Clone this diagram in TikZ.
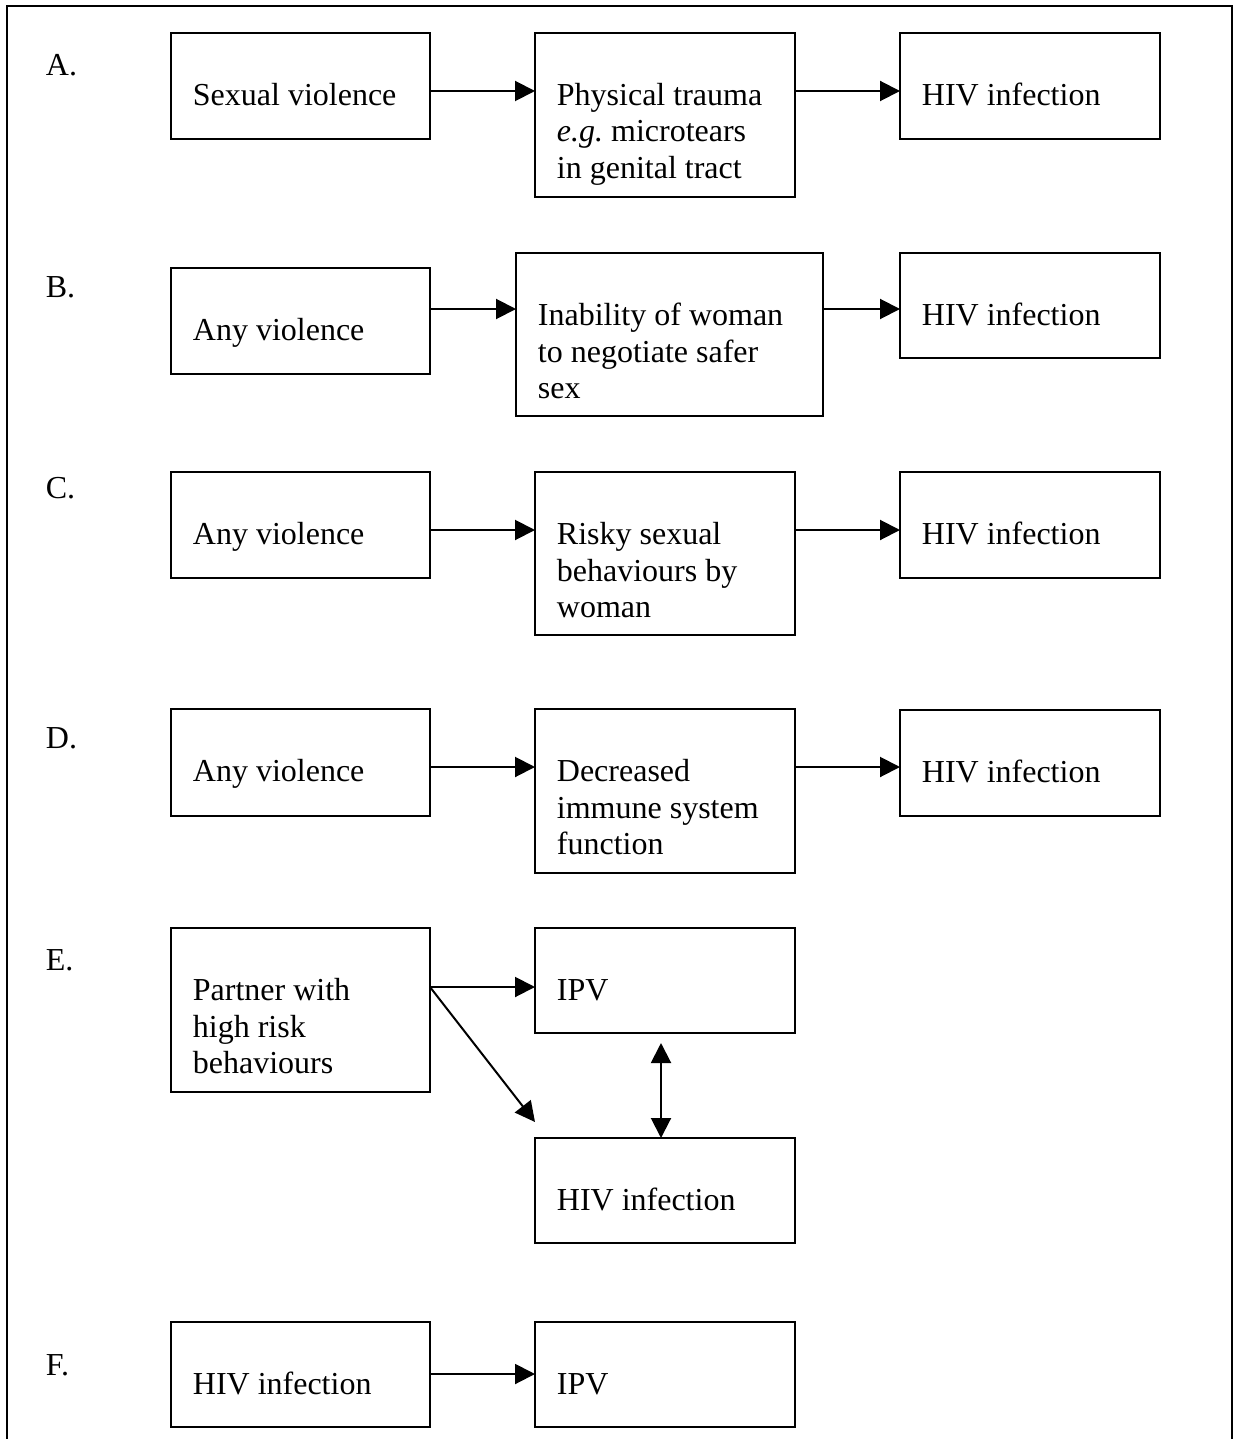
\documentclass[tikz,border=0pt]{standalone}
\usepackage{fontspec}
\setmainfont{Liberation Serif}
\usetikzlibrary{arrows.meta,calc}

% A framed stage: name, left, top, right, bottom, text (text top-aligned,
% first baseline a fixed distance below the top edge)
\newcommand{\stagebox}[6]{%
  \node[box,minimum width={(#4-#2)*0.5pt},minimum height={(#5-#3)*0.5pt}] (#1) at (#2,#3) {};
  \node[txt] (#1t) at ($(#1.north west)+(21.5,72.5)$) {\parbox[t]{150pt}{\raggedright #6}};
}

\begin{document}
\begin{tikzpicture}[x=0.5pt,y=-0.5pt,
  box/.style={draw,line width=1pt,inner sep=0pt,outer sep=0pt,anchor=north west},
  txt/.style={anchor=base west,inner sep=0pt,font=\fontsize{16pt}{18.25pt}\selectfont},
  tag/.style={anchor=base west,inner sep=0pt,font=\fontsize{16pt}{18.25pt}\selectfont},
  tip/.tip={Triangle[length=10pt,width=10pt]},
  arr/.style={line width=1pt,-tip},
  darr/.style={line width=1pt,tip-tip}]

\useasboundingbox (0,0) rectangle (1236,1439);

% open frame around the panels
\draw[line width=0.9pt] (7,1445) -- (7,6) -- (1232,6) -- (1232,1445);

% panel letters
\node[tag] (la) at (45.5,76) {A.};
\node[tag] (lb) at (45.5,297) {B.};
\node[tag] (lc) at (45.5,498) {C.};
\node[tag] (ld) at (45.5,748) {D.};
\node[tag] (le) at (45.5,970) {E.};
\node[tag] (lf) at (45.5,1375) {F.};

% A
\stagebox{a1}{171}{33}{430}{139}{Sexual violence}
\stagebox{a2}{535}{33}{795}{197}{Physical trauma\\\textit{e.g.}\ microtears\\in genital tract}
\stagebox{a3}{900}{33}{1160}{139}{HIV infection}
\draw[arr] ([yshift=-2.5pt]a1.east) -- ([yshift=-2.5pt]a1.east -| a2.west);
\draw[arr] ([yshift=-2.5pt]a1.east -| a2.east) -- ([yshift=-2.5pt]a1.east -| a3.west);

% B
\stagebox{b1}{171}{268}{430}{374}{Any violence}
\stagebox{b2}{516}{253}{823}{416}{Inability of woman\\to negotiate safer\\sex}
\stagebox{b3}{900}{253}{1160}{358}{HIV infection}
\draw[arr] ([yshift=-1.75pt]b3.west -| b1.east) -- ([yshift=-1.75pt]b3.west -| b2.west);
\draw[arr] ([yshift=-1.75pt]b3.west -| b2.east) -- ([yshift=-1.75pt]b3.west);

% C
\stagebox{c1}{171}{472}{430}{578}{Any violence}
\stagebox{c2}{535}{472}{795}{635}{Risky sexual\\behaviours by\\woman}
\stagebox{c3}{900}{472}{1160}{578}{HIV infection}
\draw[arr] ([yshift=-2.5pt]c1.east) -- ([yshift=-2.5pt]c1.east -| c2.west);
\draw[arr] ([yshift=-2.5pt]c1.east -| c2.east) -- ([yshift=-2.5pt]c1.east -| c3.west);

% D
\stagebox{d1}{171}{709}{430}{816}{Any violence}
\stagebox{d2}{535}{709}{795}{873}{Decreased\\immune system\\function}
\stagebox{d3}{900}{710}{1160}{816}{HIV infection}
\draw[arr] ([yshift=-2.25pt]d1.east) -- ([yshift=-2.25pt]d1.east -| d2.west);
\draw[arr] ([yshift=-2.25pt]d1.east -| d2.east) -- ([yshift=-2.25pt]d1.east -| d3.west);

% E
\stagebox{e1}{171}{928}{430}{1092}{Partner with\\high risk\\behaviours}
\stagebox{e2}{535}{928}{795}{1033}{IPV}
\stagebox{e3}{535}{1138}{795}{1243}{HIV infection}
\coordinate (eo) at ([yshift=-3.25pt]e2.west -| e1.east);
\draw[arr] (eo) -- (eo -| e2.west);
\draw[arr] (eo) -- ([yshift=8pt]e3.north west);
\draw[darr] ([xshift=-2pt,yshift=-5pt]e2.south) -- ([xshift=-2pt]e3.north);

% F
\stagebox{f1}{171}{1322}{430}{1427}{HIV infection}
\stagebox{f2}{535}{1322}{795}{1427}{IPV}
\draw[arr] ([yshift=0.25pt]f1.east) -- ([yshift=0.25pt]f1.east -| f2.west);

\end{tikzpicture}
\end{document}
